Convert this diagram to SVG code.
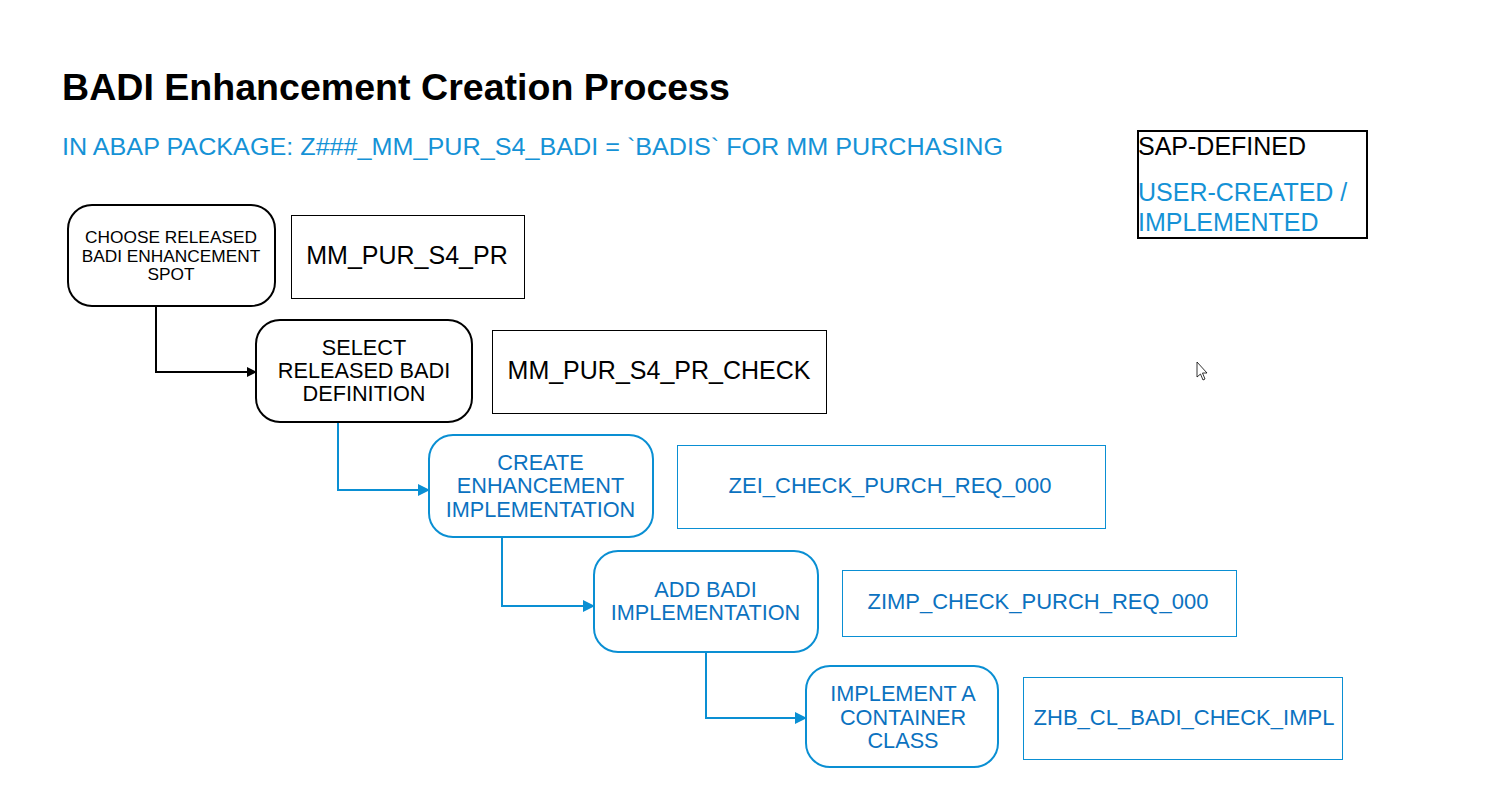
<svg xmlns="http://www.w3.org/2000/svg" width="1503" height="808" viewBox="0 0 1503 808">
<style>
text{font-family:"Liberation Sans",Arial,sans-serif;}
.sap{fill:#fff;stroke:#000;stroke-width:2;}
.usr{fill:#fff;stroke:#0A8FD3;stroke-width:2;}
.sapbox{fill:#fff;stroke:#000;stroke-width:1;}
.usrbox{fill:#fff;stroke:#0A8FD3;stroke-width:1;}
.t-sap{fill:#000;text-anchor:middle;}
.t-usr{fill:#0B72C0;text-anchor:middle;}
.n{font-size:21.7px;}
.b{font-size:22px;}
.bb{font-size:25px;}
.c-sap{fill:none;stroke:#000;stroke-width:2;}
.c-usr{fill:none;stroke:#0A8FD3;stroke-width:2;}
</style>
<defs>
<marker id="ab" markerWidth="10" markerHeight="10" refX="9" refY="5" orient="auto" markerUnits="userSpaceOnUse"><path d="M0,0 L10,5 L0,10 z" fill="#000"/></marker>
<marker id="au" markerWidth="12" markerHeight="12" refX="11" refY="6" orient="auto" markerUnits="userSpaceOnUse"><path d="M0,0 L12,6 L0,12 z" fill="#0A8FD3"/></marker>
</defs>
<rect width="1503" height="808" fill="#fff"/>
<text x="62" y="100" font-size="36" font-weight="bold" fill="#000" textLength="668" lengthAdjust="spacingAndGlyphs">BADI Enhancement Creation Process</text>
<text x="62" y="155" font-size="24.5" fill="#1592D6" textLength="941" lengthAdjust="spacingAndGlyphs">IN ABAP PACKAGE: Z###_MM_PUR_S4_BADI = `BADIS` FOR MM PURCHASING</text>

<g id="legend">
<rect x="1138" y="131" width="229" height="107" fill="#fff" stroke="#000" stroke-width="2"/>
<text x="1138" y="155" font-size="25" fill="#000">SAP-DEFINED</text>
<text x="1138" y="201" font-size="25" fill="#1592D6">USER-CREATED /</text>
<text x="1138" y="231" font-size="25" fill="#1592D6">IMPLEMENTED</text>
</g>

<g id="connectors">
<path d="M156,306 V372 H256" class="c-sap" marker-end="url(#ab)"/>
<path d="M338,422 V490 H429" class="c-usr" marker-end="url(#au)"/>
<path d="M502,537 V606 H594" class="c-usr" marker-end="url(#au)"/>
<path d="M706,652 V718 H806" class="c-usr" marker-end="url(#au)"/>
</g>

<g id="n1">
<rect x="68" y="205" width="207" height="101" rx="24" class="sap"/>
<text class="t-sap" font-size="17.3"><tspan x="171" y="243">CHOOSE RELEASED</tspan><tspan x="171" y="262">BADI ENHANCEMENT</tspan><tspan x="171" y="280">SPOT</tspan></text>
</g>
<g id="n1b">
<rect x="291.5" y="215.5" width="233" height="83" class="sapbox"/>
<text x="407" y="264" class="t-sap bb">MM_PUR_S4_PR</text>
</g>

<g id="n2">
<rect x="256" y="320" width="216" height="102" rx="24" class="sap"/>
<text class="t-sap n"><tspan x="364" y="355">SELECT</tspan><tspan x="364" y="378">RELEASED BADI</tspan><tspan x="364" y="401">DEFINITION</tspan></text>
</g>
<g id="n2b">
<rect x="492.5" y="330.5" width="334" height="83" class="sapbox"/>
<text x="659" y="379" class="t-sap bb">MM_PUR_S4_PR_CHECK</text>
</g>

<g id="n3">
<rect x="429" y="435" width="224" height="102" rx="24" class="usr"/>
<text class="t-usr n"><tspan x="540.5" y="470">CREATE</tspan><tspan x="540.5" y="493">ENHANCEMENT</tspan><tspan x="540.5" y="517">IMPLEMENTATION</tspan></text>
</g>
<g id="n3b">
<rect x="677.5" y="445.5" width="428" height="83" class="usrbox"/>
<text x="890" y="493" class="t-usr b">ZEI_CHECK_PURCH_REQ_000</text>
</g>

<g id="n4">
<rect x="594" y="551" width="224" height="101" rx="24" class="usr"/>
<text class="t-usr n"><tspan x="705.5" y="597">ADD BADI</tspan><tspan x="705.5" y="620">IMPLEMENTATION</tspan></text>
</g>
<g id="n4b">
<rect x="842.5" y="570.5" width="394" height="66" class="usrbox"/>
<text x="1038" y="609" class="t-usr b">ZIMP_CHECK_PURCH_REQ_000</text>
</g>

<g id="n5">
<rect x="806" y="666" width="192" height="101" rx="24" class="usr"/>
<text class="t-usr n"><tspan x="903" y="701">IMPLEMENT A</tspan><tspan x="903" y="725">CONTAINER</tspan><tspan x="903" y="748">CLASS</tspan></text>
</g>
<g id="n5b">
<rect x="1023.5" y="677.5" width="319" height="82" class="usrbox"/>
<text x="1184" y="725" class="t-usr b">ZHB_CL_BADI_CHECK_IMPL</text>
</g>

<path d="M1197,362 L1197,377 L1200.5,374 L1203,380 L1205,379 L1202.5,373 L1207,373 Z" fill="#fff" stroke="#000" stroke-width="0.8" stroke-linejoin="round"/>
</svg>
